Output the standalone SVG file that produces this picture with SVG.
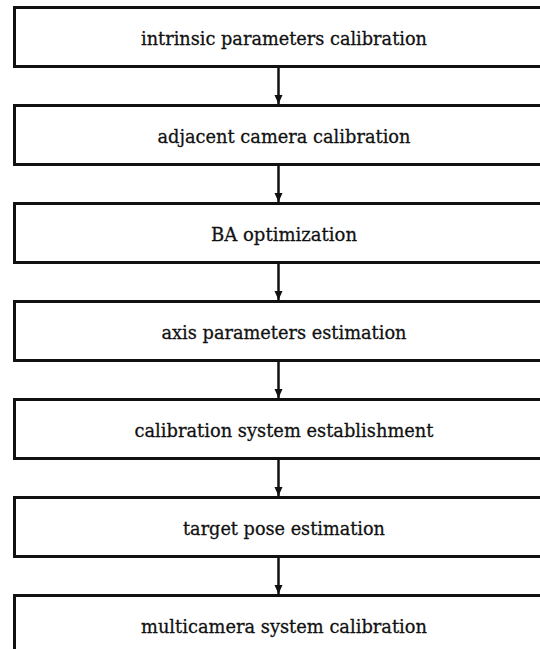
<svg xmlns="http://www.w3.org/2000/svg" width="540" height="649" viewBox="0 0 540 649">
<style>
.box{fill:#fff;stroke:#111;stroke-width:3}
.lbl{font-family:"DejaVu Serif","Liberation Serif",serif;font-size:19px;fill:#111;stroke:#111;stroke-width:0.3;text-anchor:middle}
.conn{stroke:#111;stroke-width:2.5;fill:none}
</style>
<defs>
<marker id="ah" markerUnits="userSpaceOnUse" markerWidth="10" markerHeight="10" viewBox="0 0 10 10" refX="9" refY="5" orient="auto">
<path d="M0,1 L9,5 L0,9 Z" fill="#111"/>
</marker>
</defs>
<rect width="540" height="649" fill="#fff"/>
<g id="n1"><rect class="box" x="14.5" y="7.5" width="539" height="59"/><text class="lbl" x="284" y="45" textLength="286" lengthAdjust="spacingAndGlyphs">intrinsic parameters calibration</text></g>
<g id="n2"><rect class="box" x="14.5" y="105.5" width="539" height="59"/><text class="lbl" x="284" y="143" textLength="253" lengthAdjust="spacingAndGlyphs">adjacent camera calibration</text></g>
<g id="n3"><rect class="box" x="14.5" y="203.5" width="539" height="59"/><text class="lbl" x="284" y="241" textLength="146" lengthAdjust="spacingAndGlyphs">BA optimization</text></g>
<g id="n4"><rect class="box" x="14.5" y="301.5" width="539" height="59"/><text class="lbl" x="284" y="339" textLength="245" lengthAdjust="spacingAndGlyphs">axis parameters estimation</text></g>
<g id="n5"><rect class="box" x="14.5" y="399.5" width="539" height="59"/><text class="lbl" x="284" y="437" textLength="299" lengthAdjust="spacingAndGlyphs">calibration system establishment</text></g>
<g id="n6"><rect class="box" x="14.5" y="497.5" width="539" height="59"/><text class="lbl" x="284" y="535" textLength="202" lengthAdjust="spacingAndGlyphs">target pose estimation</text></g>
<g id="n7"><rect class="box" x="14.5" y="595.5" width="539" height="59"/><text class="lbl" x="284" y="633" textLength="286" lengthAdjust="spacingAndGlyphs">multicamera system calibration</text></g>
<g id="connectors">
<line class="conn" x1="278.5" y1="66.5" x2="278.5" y2="104" marker-end="url(#ah)"/>
<line class="conn" x1="278.5" y1="164.5" x2="278.5" y2="202" marker-end="url(#ah)"/>
<line class="conn" x1="278.5" y1="262.5" x2="278.5" y2="300" marker-end="url(#ah)"/>
<line class="conn" x1="278.5" y1="360.5" x2="278.5" y2="398" marker-end="url(#ah)"/>
<line class="conn" x1="278.5" y1="458.5" x2="278.5" y2="496" marker-end="url(#ah)"/>
<line class="conn" x1="278.5" y1="556.5" x2="278.5" y2="594" marker-end="url(#ah)"/>
</g>
</svg>
